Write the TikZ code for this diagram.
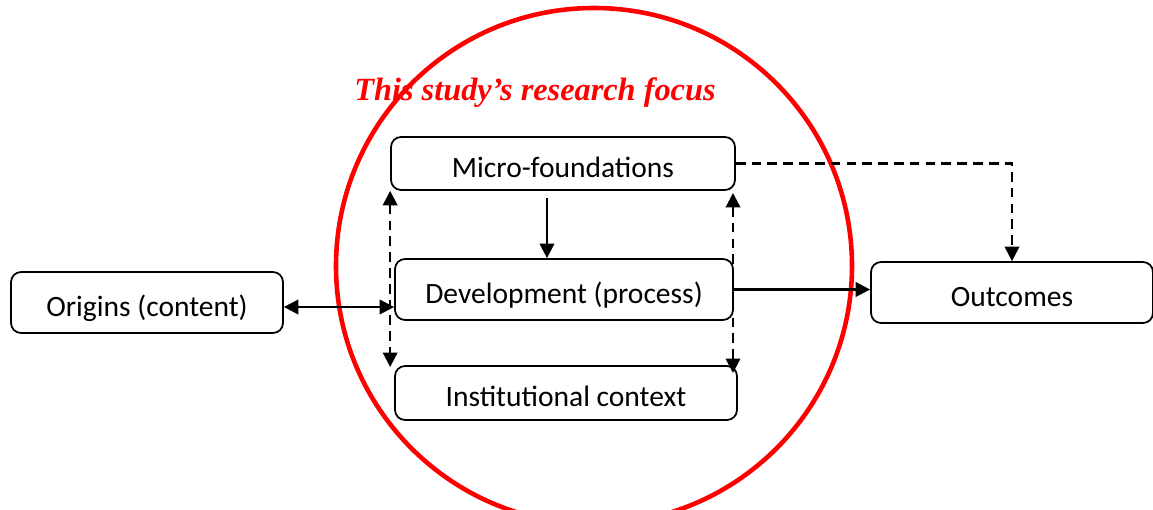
\documentclass[tikz,border=0pt]{standalone}
\usepackage{fontspec}
\setmainfont{Carlito}
\newfontfamily\titlefont{Liberation Serif}
\usetikzlibrary{arrows.meta}
\begin{document}
\begin{tikzpicture}[x=0.02cm, y=-0.02cm,
    box/.style={draw, rounded corners=0.2cm, line width=1pt, inner ysep=0pt,
      text height=18.5pt, text depth=3pt, font=\fontsize{16.8}{20}\selectfont},
    arr/.style={line width=1.3pt, -{Triangle[length=0.29cm, width=0.29cm]}},
    dblarr/.style={line width=1.3pt, {Triangle[length=0.29cm, width=0.29cm]}-{Triangle[length=0.29cm, width=0.29cm]}},
    dash line/.style={dash pattern=on 5.5pt off 3.5pt}]
    \useasboundingbox (0,0) rectangle (1153,510);
    \begin{scope}
    \clip (0,0) rectangle (1153,510);
    \draw[red, line width=2.6pt] (594,266) circle (0.02cm*258);
    \end{scope}
    \node[text=red, font=\titlefont\bfseries\itshape\fontsize{18.4}{22}\selectfont] (Focus) at (535,93) {This study’s research focus};
    \node[box, minimum width=6.88cm, minimum height=1.06cm] (Micro) at (563,163.5) {Micro-foundations};
    \node[box, minimum width=6.76cm, minimum height=1.22cm] (Dev) at (564,289.5) {Development (process)};
    \node[box, minimum width=6.84cm, minimum height=1.08cm] (Inst) at (566,393) {Institutional context};
    \node[box, minimum width=5.44cm, minimum height=1.22cm] (Origins) at (147,302.5) {Origins (content)};
    \node[box, minimum width=5.64cm, minimum height=1.22cm] (Outcomes) at (1012,292.5) {Outcomes};
    \draw[arr] (547,198) -- (Dev.north -| 547,0);
    \draw[dblarr] ([yshift=-0.09cm]Origins.east) -- ([yshift=-0.09cm]Origins.east -| Dev.west);
    \draw[dblarr, dash line] (Micro.south west) -- (Micro.south west |- 0,367);
    \draw[dblarr, dash line] (733,193) -- (733,373);
    \draw[arr] (Dev.east) -- (Dev.east -| Outcomes.west);
    \draw[arr, dash line] (Micro.east) -| (Outcomes.north);
\end{tikzpicture}
\end{document}
